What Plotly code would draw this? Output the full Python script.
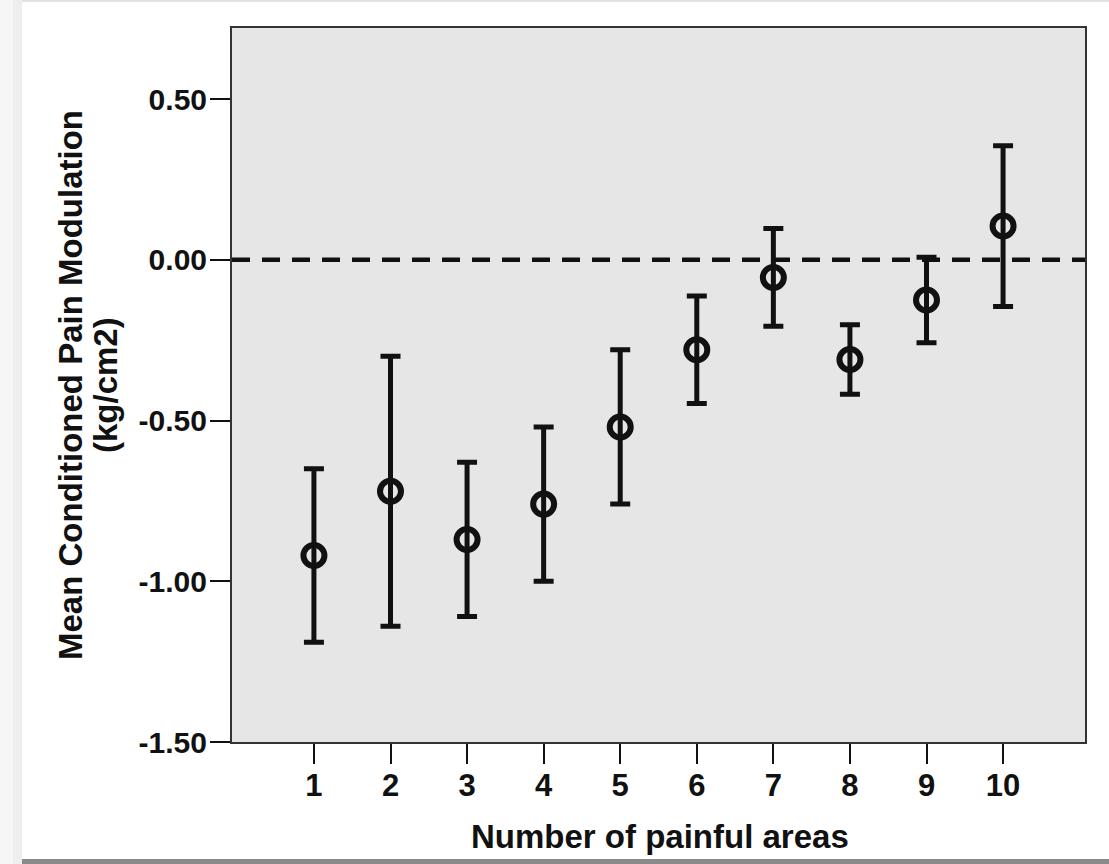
import plotly.graph_objects as go

# Mean conditioned pain modulation by number of painful areas (mean with error bars)
painful_areas = [1, 2, 3, 4, 5, 6, 7, 8, 9, 10]
mean_cpm = [-0.92, -0.72, -0.87, -0.76, -0.52, -0.28, -0.055, -0.31, -0.125, 0.105]
err_cpm = [0.27, 0.42, 0.24, 0.24, 0.24, 0.167, 0.152, 0.108, 0.133, 0.25]

y_tick_vals = [-1.5, -1.0, -0.5, 0.0, 0.5]
y_tick_text = ["-1.50", "-1.00", "-0.50", "0.00", "0.50"]

W, H = 1109, 864
ML, MR, MT, MB = 232, 24, 28, 122
PW, PH = W - ML - MR, H - MT - MB


def px(x):
    return (x - ML) / PW


def py(y):
    return (H - MB - y) / PH


FONT = "Liberation Sans, Arial, sans-serif"
INK = "#111111"

fig = go.Figure()

fig.add_trace(go.Scatter(
    x=painful_areas,
    y=mean_cpm,
    mode="markers",
    marker=dict(symbol="circle-open", size=21, color=INK,
                line=dict(width=6, color=INK)),
    error_y=dict(type="data", array=err_cpm, symmetric=True,
                 color=INK, thickness=5, width=10),
    showlegend=False,
    hoverinfo="x+y",
))

shapes = [
    # reference line at zero
    dict(type="line", xref="paper", yref="y", x0=0, x1=1, y0=0, y1=0,
         line=dict(color=INK, width=4.5, dash="18px,12px"), layer="above"),
    # page edge strip on the left
    dict(type="rect", xref="paper", yref="paper", x0=px(0), x1=px(13),
         y0=py(H), y1=py(0), fillcolor="#f6f6f6", line=dict(width=0), layer="below"),
    dict(type="rect", xref="paper", yref="paper", x0=px(13), x1=px(22),
         y0=py(H), y1=py(0), fillcolor="#eeeeee", line=dict(width=0), layer="below"),
    # thin top rule and heavier bottom rule of the page
    dict(type="rect", xref="paper", yref="paper", x0=px(22), x1=px(W),
         y0=py(2), y1=py(0), fillcolor="#e2e2e2", line=dict(width=0), layer="below"),
    dict(type="rect", xref="paper", yref="paper", x0=px(22), x1=px(W),
         y0=py(H), y1=py(859), fillcolor="#8a8a8a", line=dict(width=0), layer="below"),
]

annotations = [
    dict(text="<b>Mean Conditioned Pain Modulation</b>", xref="paper", yref="paper",
         x=px(70), y=0.5, textangle=-90, showarrow=False,
         xanchor="center", yanchor="middle",
         font=dict(family=FONT, size=33, color=INK)),
    dict(text="<b>(kg/cm2)</b>", xref="paper", yref="paper",
         x=px(105), y=0.5, textangle=-90, showarrow=False,
         xanchor="center", yanchor="middle",
         font=dict(family=FONT, size=33, color=INK)),
    dict(text="<b>Number of painful areas</b>", xref="paper", yref="paper",
         x=px(660), y=py(836), showarrow=False,
         xanchor="center", yanchor="middle",
         font=dict(family=FONT, size=33, color=INK)),
]

fig.update_layout(
    width=W, height=H,
    margin=dict(l=ML, r=MR, t=MT, b=MB, pad=0),
    paper_bgcolor="white",
    plot_bgcolor="#e6e6e6",
    shapes=shapes,
    annotations=annotations,
    xaxis=dict(
        range=[-0.07, 11.07],
        tickvals=painful_areas,
        ticktext=[f"<b>{v}</b>" for v in painful_areas],
        showgrid=False, zeroline=False,
        showline=True, mirror=True, linecolor="#333333", linewidth=2,
        ticks="outside", ticklen=20, tickwidth=2, tickcolor=INK,
        tickfont=dict(family=FONT, size=31, color=INK),
        ticklabelstandoff=-5,
    ),
    yaxis=dict(
        range=[-1.5, 0.721],
        tickvals=y_tick_vals,
        ticktext=[f"<b>{t}</b>" for t in y_tick_text],
        showgrid=False, zeroline=False,
        showline=True, mirror=True, linecolor="#333333", linewidth=2,
        ticks="outside", ticklen=20, tickwidth=2, tickcolor=INK,
        tickfont=dict(family=FONT, size=30, color=INK),
        ticklabelstandoff=-3,
    ),
    font=dict(family=FONT, color=INK),
)

fig.write_html("out.html")
